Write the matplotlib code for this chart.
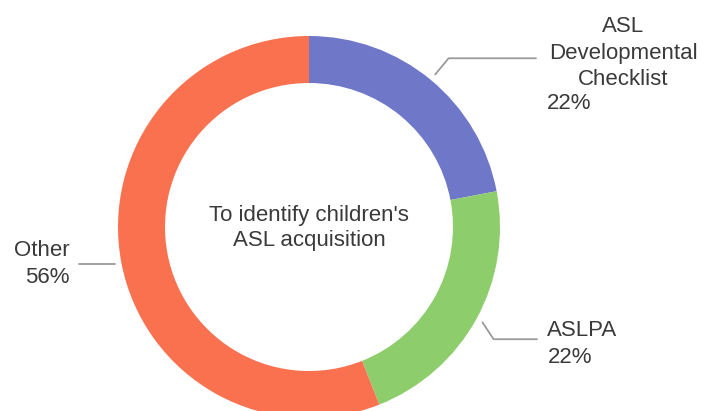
import numpy as np
import matplotlib.pyplot as plt

plt.rcParams['font.family'] = ['Liberation Sans', 'DejaVu Sans']

# Data
labels = ['ASL\nDevelopmental\nChecklist', 'ASLPA', 'Other']
shares = [22, 22, 56]
colors = ['#6f77c8', '#8dcd6b', '#f9714f']
center_text = "To identify children's\nASL acquisition"

# Canvas in pixel units
W, H = 707, 411
fig = plt.figure(figsize=(W / 100, H / 100), dpi=100)
ax = fig.add_axes([0, 0, 1, 1])

cx, cy = 309, H - 227
R, ring = 191, 47

wedges, _ = ax.pie(shares, colors=colors, startangle=90, counterclock=False,
                   center=(cx, cy), radius=R, frame=True,
                   wedgeprops=dict(width=ring, linewidth=0))

ax.set_xlim(0, W)
ax.set_ylim(0, H)
ax.set_aspect('equal')
ax.axis('off')

# Leader lines: start radius, elbow radius/angle shift, end x of the horizontal run
start_r = [198, 198, 197]
elbow_r = [219, 216, 197]
elbow_dang = [0, -2.5, 0]
end_x = [536, 537, 79]
# Label text placement relative to the line end (pixels, downwards positive)
name_dy = [-5, -9, -13]
pct_dy = [45, 18, 14]
name_dx = [87, 10, -9]
name_align = ['center', 'left', 'right']

text_color = '#3a3a3a'
for i, w in enumerate(wedges):
    mid = (w.theta1 + w.theta2) / 2
    a0 = np.deg2rad(mid)
    a1 = np.deg2rad(mid + elbow_dang[i])
    x0 = cx + start_r[i] * np.cos(a0)
    y0 = cy + start_r[i] * np.sin(a0)
    x1 = cx + elbow_r[i] * np.cos(a1)
    y1 = cy + elbow_r[i] * np.sin(a1)
    ax.plot([x0, x1, end_x[i]], [y0, y1, y1], color='#9a9a9a', lw=1.3,
            solid_capstyle='round')
    right = end_x[i] > cx
    tx = end_x[i] + (11 if right else -9)
    ax.text(end_x[i] + name_dx[i], y1 - name_dy[i], labels[i],
            ha=name_align[i], va='center', multialignment=name_align[i],
            fontsize=16, color=text_color, linespacing=1.33)
    ax.text(tx, y1 - pct_dy[i], f'{shares[i]}%',
            ha='left' if right else 'right', va='center',
            fontsize=16, color=text_color)

ax.text(cx, cy - 1, center_text, ha='center', va='center',
        fontsize=16, color=text_color, linespacing=1.25)

fig.savefig('out.png', dpi=100)
